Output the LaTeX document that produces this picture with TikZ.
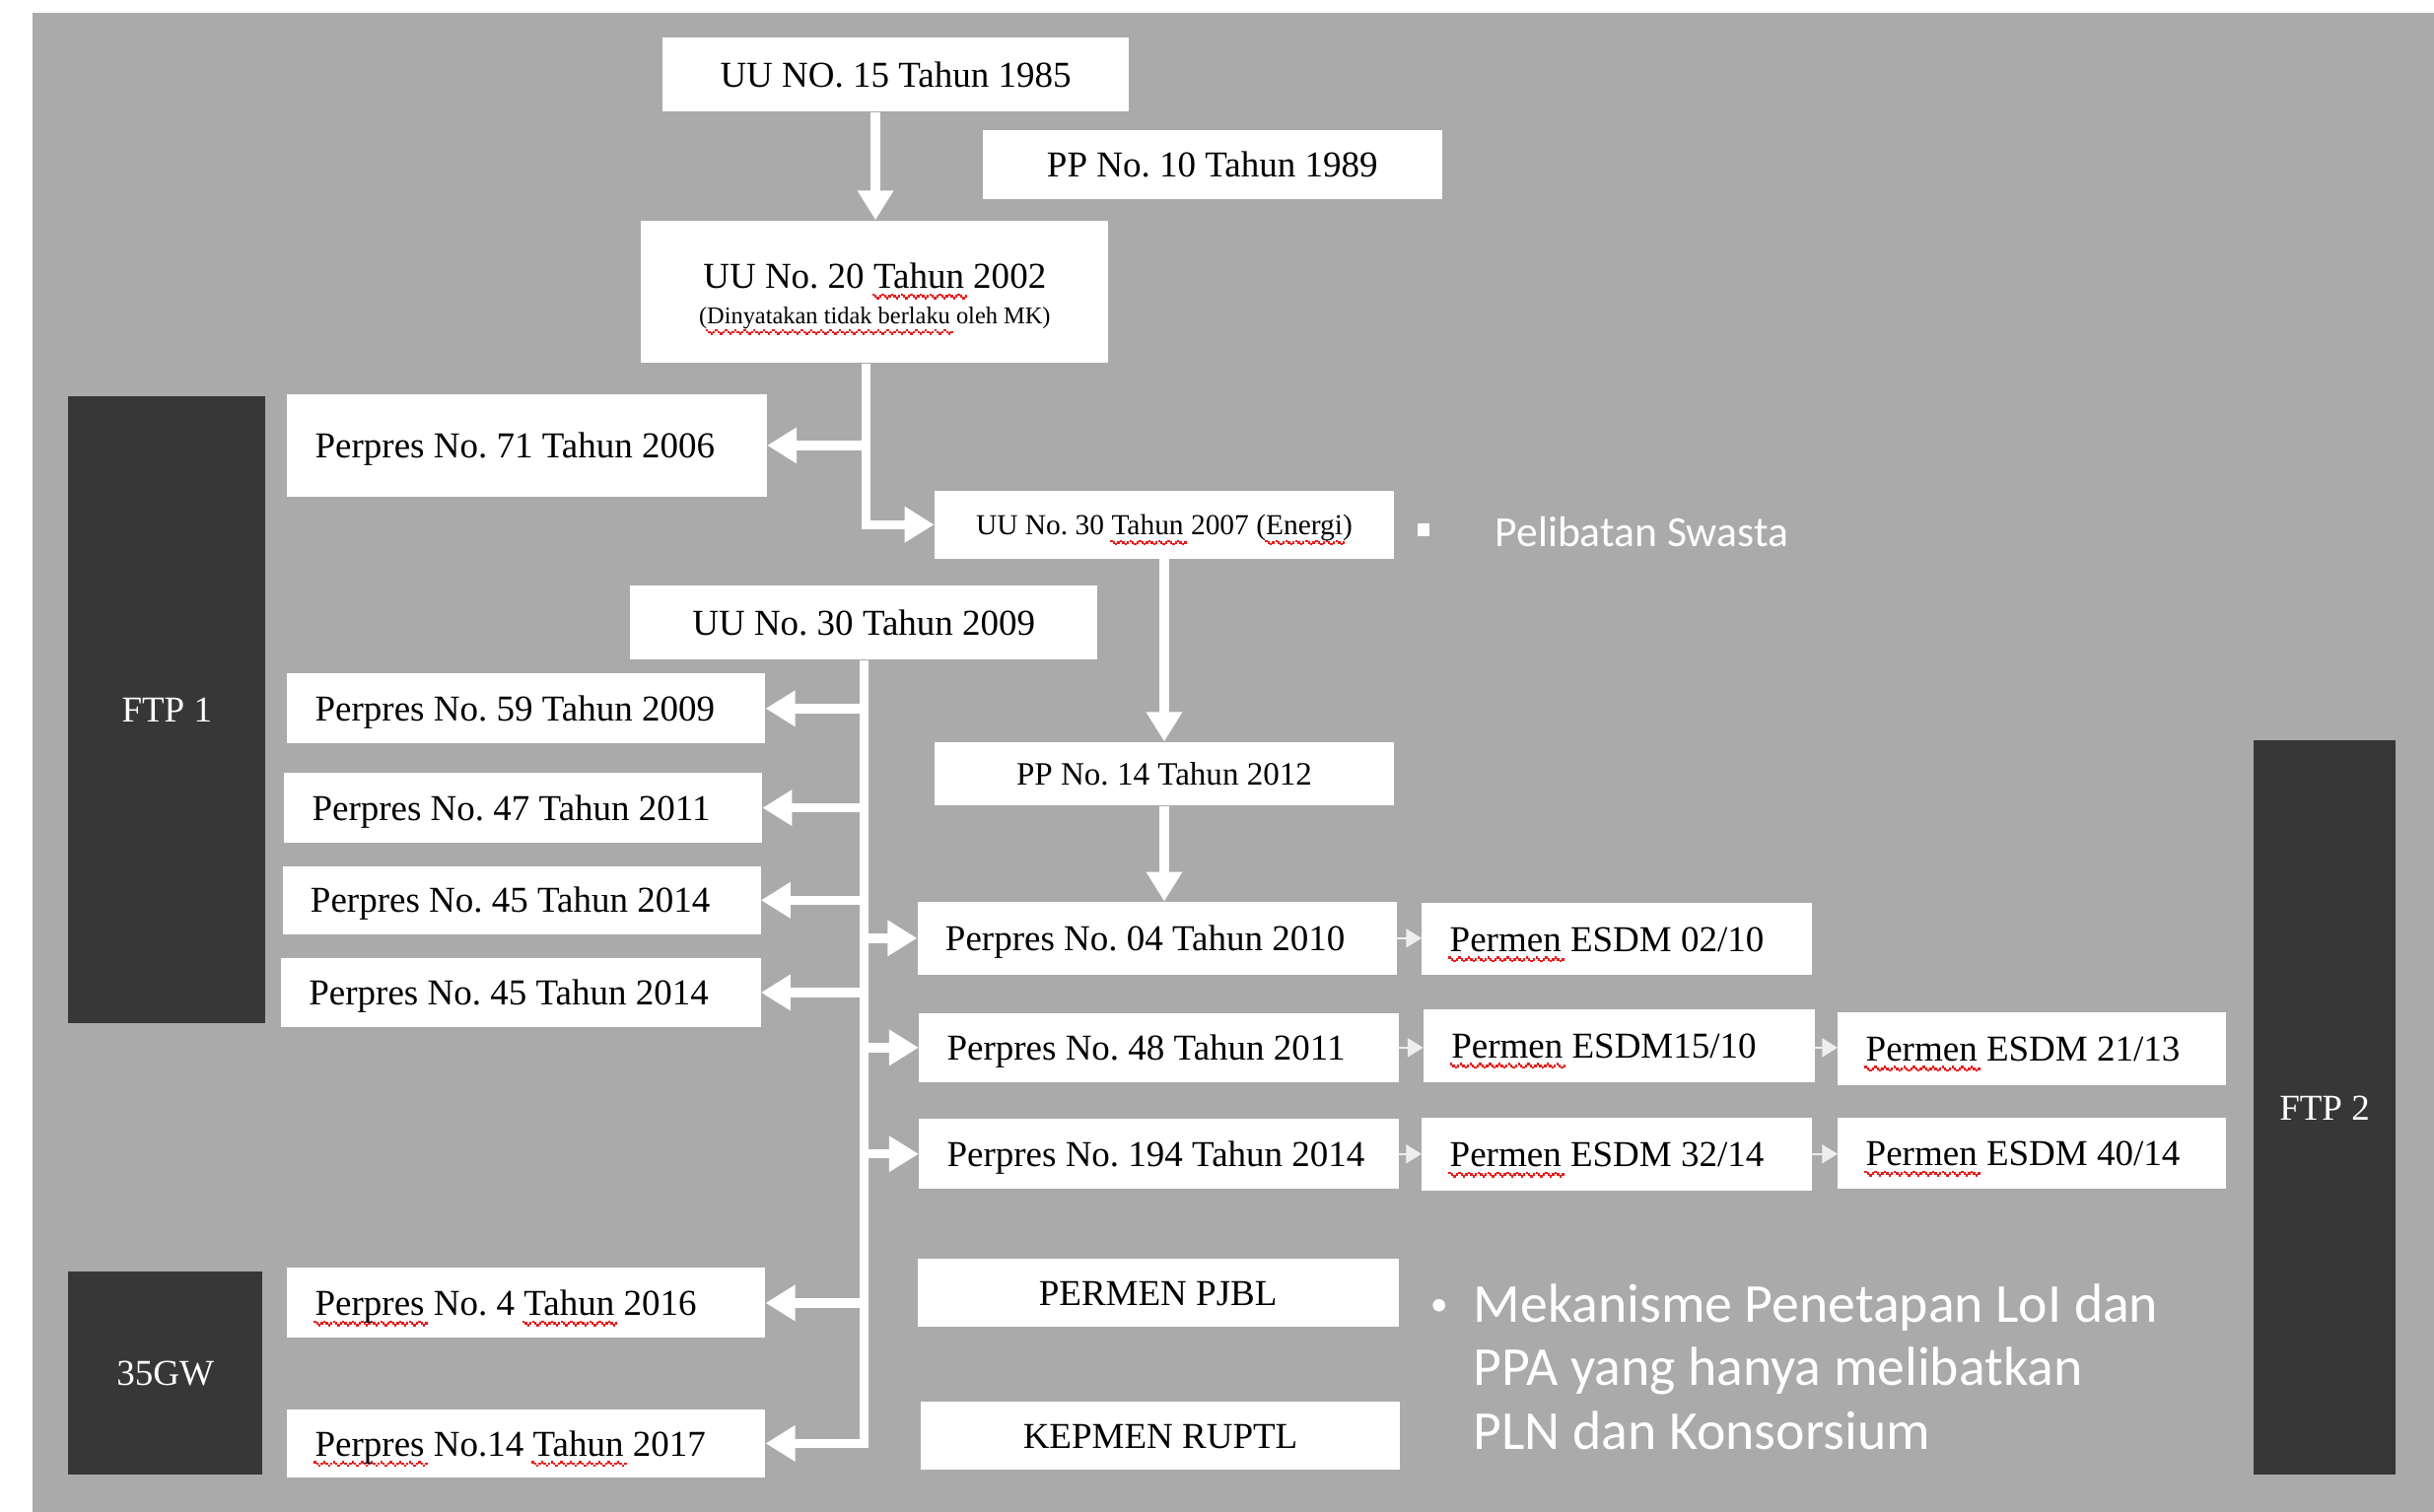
\documentclass[tikz,border=0pt]{standalone}
\usepackage{fontspec}
\setmainfont{Liberation Serif}
\newfontfamily\carlito{Carlito}
\usetikzlibrary{arrows.meta,calc}
\definecolor{bg}{HTML}{AAAAAA}
\definecolor{dark}{HTML}{373737}
\definecolor{thinw}{HTML}{EEEEEE}
\definecolor{wavered}{HTML}{F01818}
\newcommand\wavepiece{\hbox{%
  \vrule height -3.3pt depth 4.9pt width 1.5pt
  \vrule height -4.4pt depth 6.0pt width 1.5pt
  \vrule height -5.5pt depth 7.1pt width 1.5pt
  \vrule height -4.4pt depth 6.0pt width 1.5pt}}
\newcommand\spw[1]{\setbox0\hbox{#1}\leavevmode\rlap{\color{wavered}\kern-1pt\xleaders\wavepiece\hskip\dimexpr\wd0+3pt\relax}\box0\relax}
\tikzset{
  cbox/.style={fill=white,inner sep=0pt,align=center,text height=16pt,text depth=0pt,font=\fontsize{23.5}{27}\selectfont\frenchspacing},
  lbox/.style={fill=white,inner xsep=18pt,inner ysep=0pt,align=flush left,text height=16pt,text depth=0pt,font=\fontsize{23.5}{27}\selectfont\frenchspacing},
  dbox/.style={fill=dark,text=white,inner sep=0pt,text height=16pt,text depth=0pt,font=\fontsize{23.5}{27}\selectfont},
  bigline/.style={draw=white,line width=6pt},
  bigarrow/.style={draw=white,line width=6pt,-{Triangle[width=22pt,length=19pt]}},
  smallarrow/.style={draw=thinw,line width=1.5pt,-{Triangle[width=12pt,length=10pt]}},
  swhite/.style={text=white,inner sep=0pt}
}
\begin{document}
\begin{tikzpicture}[x=1pt,y=-1pt]
\useasboundingbox (0,0) rectangle (1568,974);
\fill[white] (0,0) rectangle (1568,974);
\fill[bg] (21,8) rectangle (1568,974);

% dark side boxes
\node[dbox,minimum width=127pt,minimum height=404pt] (ftp1) at (107.5,457) {FTP 1};
\node[dbox,minimum width=125pt,minimum height=131pt] (gw35) at (106.5,884.5) {35GW};
\node[dbox,minimum width=91pt,minimum height=473pt] (ftp2) at (1497.5,713.5) {FTP 2};

% top chain
\node[cbox,minimum width=300pt,minimum height=48pt] (u1985) at (577,48) {UU NO. 15 Tahun 1985};
\node[cbox,minimum width=296pt,minimum height=44pt] (pp1989) at (781,106) {PP No. 10 Tahun 1989};
\node[cbox,text height=,text depth=,minimum width=301pt,minimum height=92pt] (u2002) at (563.5,188)
  {\rule{0pt}{25.5pt}UU No. 20 \spw{Tahun} 2002\\[-4pt]{\fontsize{15.5}{18}\selectfont(\spw{Dinyatakan tidak berlaku} oleh MK)}};
\node[lbox,text width=273pt,minimum height=66pt] (p71) at (339.5,287) {Perpres No. 71 Tahun 2006};
\node[cbox,text height=12.8pt,minimum width=296pt,minimum height=44pt,font=\fontsize{18.7}{22}\selectfont\frenchspacing] (u2007) at (750,338)
  {UU No. 30 \spw{Tahun} 2007 (\spw{Energi})};
\node[cbox,minimum width=301pt,minimum height=48pt] (u2009) at (556.5,401) {UU No. 30 Tahun 2009};
\node[cbox,text height=14.3pt,minimum width=296pt,minimum height=41pt,font=\fontsize{21}{25}\selectfont\frenchspacing] (pp2012) at (750,498.5) {PP No. 14 Tahun 2012};

% left column
\node[lbox,text width=272pt,minimum height=45pt] (p59) at (339,456.5) {Perpres No. 59 Tahun 2009};
\node[lbox,text width=272pt,minimum height=45pt] (p47) at (337,520.5) {Perpres No. 47 Tahun 2011};
\node[lbox,text width=272pt,minimum height=44pt] (p45a) at (336,580) {Perpres No. 45 Tahun 2014};
\node[lbox,text width=273pt,minimum height=45pt] (p45b) at (335.5,639.5) {Perpres No. 45 Tahun 2014};
\node[lbox,text width=272pt,minimum height=45pt] (p2016) at (339,839.5) {\spw{Perpres} No. 4 \spw{Tahun} 2016};
\node[lbox,text width=272pt,minimum height=44pt] (p2017) at (339,930) {\spw{Perpres} No.14 \spw{Tahun} 2017};

% right column
\node[lbox,text width=273pt,minimum height=47pt] (p04) at (745.5,604.5) {Perpres No. 04 Tahun 2010};
\node[lbox,text width=273pt,minimum height=44pt] (p48) at (746.5,675) {Perpres No. 48 Tahun 2011};
\node[lbox,text width=273pt,minimum height=45pt] (p194) at (746.5,743.5) {Perpres No. 194 Tahun 2014};
\node[lbox,text width=215pt,minimum height=46pt] (e0210) at (1041.5,605) {\spw{Permen} ESDM 02/10};
\node[lbox,text width=216pt,minimum height=47pt] (e1510) at (1043,673.5) {\spw{Permen} ESDM15/10};
\node[lbox,text width=214pt,minimum height=47pt] (e2113) at (1309,675.5) {\spw{Permen} ESDM 21/13};
\node[lbox,text width=215pt,minimum height=47pt] (e3214) at (1041.5,743.5) {\spw{Permen} ESDM 32/14};
\node[lbox,text width=214pt,minimum height=46pt] (e4014) at (1309,743) {\spw{Permen} ESDM 40/14};
\node[cbox,minimum width=310pt,minimum height=44pt] (pjbl) at (746,833) {PERMEN PJBL};
\node[cbox,minimum width=309pt,minimum height=44pt] (ruptl) at (747.5,925) {KEPMEN RUPTL};

% side texts
\node[fill=white,minimum size=8pt,inner sep=0pt] (sq) at (917,341.5) {};
\node[swhite,anchor=base west,font=\carlito\fontsize{27.7}{32}\selectfont] (pel) at (963,352) {Pelibatan Swasta};
\node[circle,fill=white,minimum size=8pt,inner sep=0pt] (dot) at (927,841) {};
\node[swhite,anchor=north west,align=left,font=\carlito\fontsize{35.4}{41}\selectfont] (mek) at (949,827)
  {Mekanisme Penetapan LoI dan\\PPA yang hanya melibatkan\\PLN dan Konsorsium};

% connectors
\coordinate (xa) at (564,0);
\coordinate (xb) at (558,0);
\draw[bigarrow] (u1985.south -| xa) -- (u2002.north -| xa);
\draw[bigarrow] (u2002.south -| xb) |- (u2007.west);
\draw[bigarrow] (xb |- p71.east) -- (p71.east);
\draw[bigarrow] (u2007.south) -- (pp2012.north);
\draw[bigarrow] (pp2012.south) -- (pp2012.south |- p04.north);
\draw[bigline] (u2009.south) -- ($(u2009.south |- p2017.east)+(0,3)$);
\foreach \p in {p59,p47,p45a,p45b,p2016,p2017}
  \draw[bigarrow] (u2009.south |- \p.east) -- (\p.east);
\foreach \p in {p04,p48,p194}
  \draw[bigarrow] (u2009.south |- \p.west) -- (\p.west);
\draw[smallarrow] (p04.east) -- (p04.east -| e0210.west);
\draw[smallarrow] (p48.east) -- (p48.east -| e1510.west);
\draw[smallarrow] (e1510.east |- p48.east) -- (p48.east -| e2113.west);
\draw[smallarrow] (p194.east) -- (p194.east -| e3214.west);
\draw[smallarrow] (e3214.east) -- (e3214.east -| e4014.west);
\end{tikzpicture}
\end{document}
